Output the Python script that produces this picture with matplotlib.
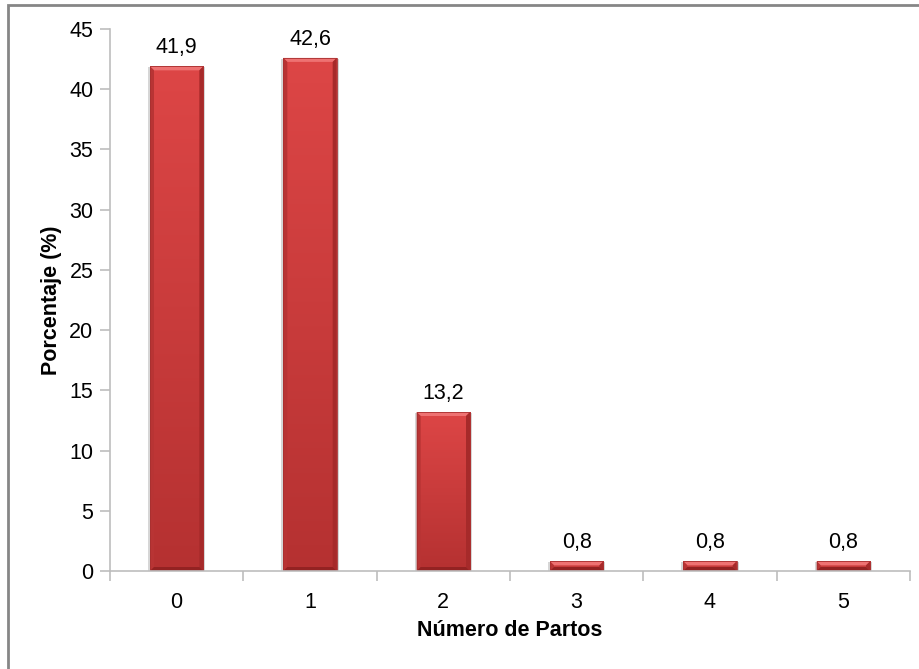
import numpy as np
import matplotlib
matplotlib.use("Agg")
import matplotlib.pyplot as plt
from matplotlib.patches import Rectangle, Polygon
from matplotlib.colors import LinearSegmentedColormap

categories = ["0", "1", "2", "3", "4", "5"]
percentages = [41.9, 42.6, 13.2, 0.8, 0.8, 0.8]
value_labels = ["41,9", "42,6", "13,2", "0,8", "0,8", "0,8"]
y_ticks = [0, 5, 10, 15, 20, 25, 30, 35, 40, 45]

plt.rcParams["font.family"] = ["Liberation Sans", "DejaVu Sans"]

W, H = 919, 669
fig = plt.figure(figsize=(W / 100, H / 100), dpi=100)
fig.patch.set_facecolor("white")

# outer chart frame
fig.add_artist(Rectangle((8 / W, -0.1), 1.2, (669 - 5) / H + 0.1,
                         transform=fig.transFigure, fill=False,
                         edgecolor="#868686", linewidth=2.0))

ax = fig.add_axes([110 / W, (H - 571) / H, 800 / W, 542 / H])
ax.set_xlim(-0.5, len(categories) - 0.5)
ax.set_ylim(0, 45)

axis_grey = "#BDBDBD"
for side in ("top", "right"):
    ax.spines[side].set_visible(False)
for side in ("left", "bottom"):
    ax.spines[side].set_color(axis_grey)
    ax.spines[side].set_linewidth(1.2)

ax.set_yticks(y_ticks)
ax.set_yticklabels([str(v) for v in y_ticks])
ax.tick_params(axis="y", direction="out", length=7, width=1.2, color=axis_grey,
               labelsize=15.5, pad=5)
ax.set_xticks(range(len(categories)))
ax.set_xticklabels(categories)
ax.tick_params(axis="x", length=0, labelsize=15.5, pad=15)
# tick marks between categories
ax.set_xticks(np.arange(-0.5, len(categories)), minor=True)
ax.tick_params(axis="x", which="minor", direction="out", length=7, width=1.2,
               color=axis_grey)

bar_w = 0.40
face_cmap = LinearSegmentedColormap.from_list("redface", ["#B53131", "#DD4646"])
px_x = (len(categories)) / 800.0   # data units per pixel, x
px_y = 45 / 542.0                  # data units per pixel, y

bars = ax.bar(range(len(categories)), percentages, width=bar_w,
              color="#C83A3A", edgecolor="none", zorder=2)

grad = np.linspace(0, 1, 256).reshape(-1, 1)
for bar, val in zip(bars, percentages):
    x0 = bar.get_x()
    x1 = x0 + bar.get_width()
    y1 = bar.get_height()
    # soft shadow behind the bar
    ax.add_patch(Rectangle((x0 - 2 * px_x, 0), (x1 - x0) + 4 * px_x, y1 - px_y,
                           facecolor="#D6D6D6", edgecolor="none", zorder=1.9))
    im = ax.imshow(grad, cmap=face_cmap, aspect="auto", origin="lower",
                   extent=(x0, x1, 0, y1), zorder=2.1)
    im.set_clip_path(bar)
    # bevel edges
    bx = min(4 * px_x, (x1 - x0) / 2)
    by = min(4 * px_y, y1 / 2)
    top = Polygon([(x0, y1), (x1, y1), (x1 - bx, y1 - by), (x0 + bx, y1 - by)],
                  closed=True, facecolor="#EE7272", edgecolor="none", zorder=2.2)
    left = Polygon([(x0, 0), (x0, y1), (x0 + bx, y1 - by), (x0 + bx, by)],
                   closed=True, facecolor="#B83434", edgecolor="none", zorder=2.2)
    right = Polygon([(x1, 0), (x1, y1), (x1 - bx, y1 - by), (x1 - bx, by)],
                    closed=True, facecolor="#A62A2A", edgecolor="none", zorder=2.2)
    bottom = Polygon([(x0, 0), (x1, 0), (x1 - bx, by), (x0 + bx, by)],
                     closed=True, facecolor="#932222", edgecolor="none", zorder=2.2)
    for p in (top, left, right, bottom):
        ax.add_patch(p)
    ax.add_patch(Rectangle((x0, 0), x1 - x0, y1, fill=False,
                           edgecolor="#A83030", linewidth=0.6, zorder=2.3))

for bar, lab in zip(bars, value_labels):
    ax.annotate(lab, (bar.get_x() + bar.get_width() / 2, bar.get_height()),
                xytext=(0, 6), textcoords="offset points", ha="center",
                va="bottom", fontsize=15.5, color="black")

ax.set_xlabel("Número de Partos", fontsize=15.5, fontweight="bold", labelpad=5)
ax.set_ylabel("Porcentaje (%)", fontsize=15.5, fontweight="bold", labelpad=5)

fig.savefig("out.png", dpi=100, facecolor="white")
